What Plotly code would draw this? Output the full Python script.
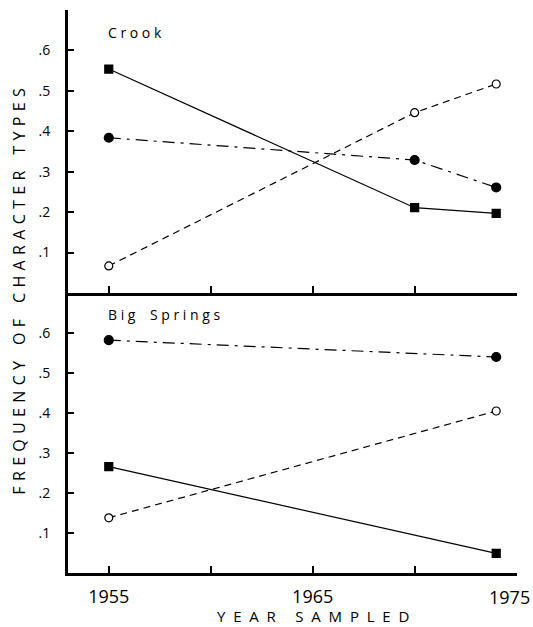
import plotly.graph_objects as go

# ---- data ----
years_crook = [1955, 1970, 1974]
crook_square = [0.554, 0.211, 0.197]
crook_filled = [0.384, 0.329, 0.261]
crook_open = [0.067, 0.446, 0.517]

years_bs = [1955, 1974]
bs_square = [0.266, 0.049]
bs_filled = [0.582, 0.540]
bs_open = [0.138, 0.405]

x_tickvals = [1955, 1960, 1965, 1970, 1975]
x_ticktext = ["1955", "", "1965", "", ""]
x_last_tickval = [1975]
x_last_ticktext = ["1975"]
y_tickvals = [0.1, 0.2, 0.3, 0.4, 0.5, 0.6, 0.7]
y_ticktext = [".1", ".2", ".3", ".4", ".5", ".6", ""]

FONT = "Open Sans"
NB = "\u00a0"


def spaced(s, gap, wordgap):
    words = s.split(" ")
    return wordgap.join(gap.join(list(w)) for w in words)


fig = go.Figure()

def add_series(x, y, xa, ya, dash, symbol, size, fill):
    fig.add_trace(go.Scatter(
        x=x, y=y, xaxis=xa, yaxis=ya, mode="lines+markers",
        line=dict(color="black", width=1.2, dash=dash),
        marker=dict(symbol=symbol, size=size, color=fill,
                    line=dict(color="black", width=1.2)),
        showlegend=False, cliponaxis=False, hoverinfo="skip",
    ))

dashdot = "12px,6px,3px,6px"
dashed = "7px,5px"

# top panel: Crook
add_series(years_crook, crook_square, "x2", "y2", "solid", "square", 8, "black")
add_series(years_crook, crook_filled, "x2", "y2", dashdot, "circle", 9, "black")
add_series(years_crook, crook_open, "x2", "y2", dashed, "circle", 8, "white")
# bottom panel: Big Springs
add_series(years_bs, bs_square, "x", "y", "solid", "square", 8, "black")
add_series(years_bs, bs_filled, "x", "y", dashdot, "circle", 9, "black")
add_series(years_bs, bs_open, "x", "y", dashed, "circle", 8, "white")
# empty trace so the overlay axis carrying the last tick label is drawn
fig.add_trace(go.Scatter(x=[], y=[], xaxis="x3", yaxis="y", showlegend=False,
                         hoverinfo="skip"))

split = 280 / 563
XRANGE = [1953, 1975.02]

xcommon = dict(range=XRANGE, tickmode="array", tickvals=x_tickvals,
               showline=True, linecolor="black", linewidth=3,
               ticks="inside", ticklen=7, tickwidth=2, tickcolor="black",
               showgrid=False, zeroline=False, automargin=False,
               tickfont=dict(family=FONT, size=18, color="black"))
ycommon = dict(range=[0, 0.70], tickmode="array", tickvals=y_tickvals,
               ticktext=y_ticktext,
               showline=True, linecolor="black", linewidth=3,
               ticks="inside", ticklen=6, tickwidth=1.5, tickcolor="black",
               showgrid=False, zeroline=False, ticklabelstandoff=12,
               automargin=False,
               tickfont=dict(family=FONT, size=14, color="black"))

fig.update_layout(
    width=533, height=627,
    margin=dict(l=68, r=16, t=10, b=54),
    paper_bgcolor="white", plot_bgcolor="white",
    hovermode=False,
    xaxis=dict(**xcommon, anchor="y", ticktext=x_ticktext, ticklabelstandoff=5),
    xaxis2=dict(**xcommon, anchor="y2", showticklabels=False, matches="x"),
    xaxis3=dict(range=XRANGE, overlaying="x", anchor="y", side="bottom",
                tickmode="array", tickvals=x_last_tickval,
                ticktext=x_last_ticktext, ticks="", showline=False,
                showgrid=False, zeroline=False, automargin=False,
                ticklabelstandoff=12, ticklabelshift=-7,
                ticklabeloverflow="allow",
                tickfont=dict(family=FONT, size=18, color="black")),
    yaxis=dict(**ycommon, domain=[0, split], anchor="x"),
    yaxis2=dict(**ycommon, domain=[split, 1], anchor="x2"),
    annotations=[
        dict(text=spaced("Crook", NB, NB * 2), x=1954.85, y=0.645,
             xref="x2", yref="y2",
             xanchor="left", yanchor="middle", showarrow=False,
             font=dict(family=FONT, size=14, color="black")),
        dict(text=spaced("Big Springs", NB, NB * 4), x=1954.85, y=0.645,
             xref="x", yref="y",
             xanchor="left", yanchor="middle", showarrow=False,
             font=dict(family=FONT, size=14, color="black")),
        dict(text=spaced("FREQUENCY OF CHARACTER TYPES", "\u2004", "\u2004" * 3),
             x=-0.111, y=0.5,
             xref="paper", yref="paper", textangle=-90, showarrow=False,
             xanchor="center", yanchor="middle",
             font=dict(family=FONT, size=16, color="black")),
        dict(text=spaced("YEAR SAMPLED", NB * 2, NB * 5), x=1965, y=-0.0764,
             xref="x", yref="paper", showarrow=False, xanchor="center",
             yanchor="middle",
             font=dict(family=FONT, size=15, color="black")),
    ],
)

fig.write_html("out.html", config={"displayModeBar": False},
               post_script="document.body.style.margin='0px';")
